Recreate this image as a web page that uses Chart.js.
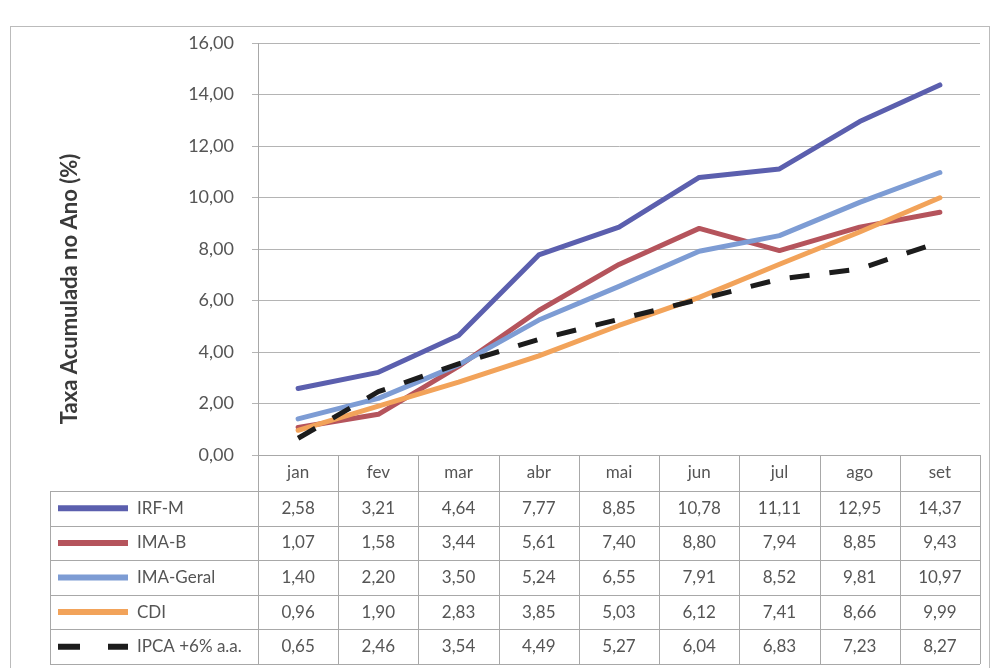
<!DOCTYPE html>
<html>
<head>
<meta charset="utf-8">
<script src="https://cdn.jsdelivr.net/npm/chart.js@4/dist/chart.umd.min.js"></script>
<style>
    html, body { margin: 0; padding: 0; background: #fff; }
    canvas { display: block; }
</style>
</head>
<body>
<canvas id="grafico" width="992" height="668"></canvas>
<script>
const meses = ['jan', 'fev', 'mar', 'abr', 'mai', 'jun', 'jul', 'ago', 'set'];
const irfM = [2.58, 3.21, 4.64, 7.77, 8.85, 10.78, 11.11, 12.95, 14.37];
const imaB = [1.07, 1.58, 3.44, 5.61, 7.40, 8.80, 7.94, 8.85, 9.43];
const imaGeral = [1.40, 2.20, 3.50, 5.24, 6.55, 7.91, 8.52, 9.81, 10.97];
const cdi = [0.96, 1.90, 2.83, 3.85, 5.03, 6.12, 7.41, 8.66, 9.99];
const ipca = [0.65, 2.46, 3.54, 4.49, 5.27, 6.04, 6.83, 7.23, 8.27];
const nomesSeries = ['IRF-M', 'IMA-B', 'IMA-Geral', 'CDI', 'IPCA +6% a.a.'];
const eixoMin = 0, eixoMax = 16, eixoPasso = 2;
const tituloY = 'Taxa Acumulada no Ano (%)';

const fonte = 'Lato, "Open Sans", sans-serif';
const corTexto = '#555';
const corGrade = '#b4b4b4';

const fmt = v => v.toFixed(2).replace('.', ',');

// ==============================
// Tabela de dados + título do eixo
// ==============================
const tabelaPlugin = {
    id: 'tabela',
    afterDraw(chart) {
        const ctx = chart.ctx;
        const area = chart.chartArea;
        const sx = chart.scales.x;
        const larg = (area.right - area.left) / meses.length;
        const topo = area.bottom;
        const altCab = 36;
        const altLinha = 34.6;
        const legEsq = 50;
        const fim = topo + altCab + altLinha * nomesSeries.length;

        ctx.save();
        // moldura do gráfico
        ctx.strokeStyle = '#bbb';
        ctx.lineWidth = 1;
        ctx.strokeRect(10.5, 26.5, 979, 660);

        ctx.strokeStyle = '#a8a8a8';
        ctx.beginPath();
        // linhas verticais das colunas
        for (let i = 0; i <= meses.length; i++) {
            const xx = Math.round(area.left + i * larg) + 0.5;
            ctx.moveTo(xx, topo);
            ctx.lineTo(xx, fim);
        }
        ctx.moveTo(legEsq + 0.5, topo + altCab);
        ctx.lineTo(legEsq + 0.5, fim);
        // linhas horizontais
        ctx.moveTo(area.left, Math.round(topo) + 0.5);
        ctx.lineTo(area.right, Math.round(topo) + 0.5);
        for (let r = 0; r <= nomesSeries.length; r++) {
            const yy = Math.round(topo + altCab + r * altLinha) + 0.5;
            ctx.moveTo(legEsq, yy);
            ctx.lineTo(area.right, yy);
        }
        ctx.stroke();

        ctx.fillStyle = corTexto;
        ctx.font = '17px ' + fonte;
        ctx.textAlign = 'center';
        ctx.textBaseline = 'middle';
        meses.forEach((m, i) => {
            ctx.fillText(m, sx.getPixelForValue(i), topo + altCab / 2);
        });

        chart.data.datasets.forEach((ds, r) => {
            const yy = topo + altCab + r * altLinha + altLinha / 2;
            ctx.textAlign = 'center';
            ds.data.forEach((v, i) => {
                ctx.fillText(fmt(v), sx.getPixelForValue(i), yy);
            });
            // amostra da legenda
            ctx.save();
            ctx.strokeStyle = ds.borderColor;
            ctx.lineWidth = 6;
            ctx.lineCap = 'butt';
            ctx.setLineDash(ds.borderDash ? [22, 28] : []);
            ctx.beginPath();
            ctx.moveTo(58, yy);
            ctx.lineTo(128, yy);
            ctx.stroke();
            ctx.restore();
            ctx.textAlign = 'left';
            ctx.fillText(ds.label, 137, yy);
        });

        // título do eixo Y
        ctx.translate(70, 289);
        ctx.rotate(-Math.PI / 2);
        ctx.font = 'bold 22px Lato, sans-serif';
        ctx.fillStyle = '#3a3a3a';
        ctx.textAlign = 'center';
        ctx.fillText(tituloY, 0, 0);
        ctx.restore();
    }
};

const linha = (label, data, cor, ordem, tracejado) => ({
    label: label,
    data: data,
    borderColor: cor,
    backgroundColor: cor,
    borderWidth: 5,
    pointRadius: 0,
    tension: 0,
    fill: false,
    order: ordem,
    borderJoinStyle: 'round',
    borderCapStyle: tracejado ? 'butt' : 'round',
    borderDash: tracejado ? [20, 20] : undefined
});

new Chart(document.getElementById('grafico'), {
    type: 'line',
    data: {
        labels: meses,
        datasets: [
            linha(nomesSeries[0], irfM, '#5b5fae', 4),
            linha(nomesSeries[1], imaB, '#b5545c', 3),
            linha(nomesSeries[2], imaGeral, '#7d9cd4', 2),
            linha(nomesSeries[3], cdi, '#f2a35a', 1),
            linha(nomesSeries[4], ipca, '#1c1c1c', 0, true)
        ]
    },
    options: {
        responsive: false,
        animation: false,
        layout: { padding: { left: 0, top: 43, right: 12, bottom: 213 } },
        plugins: { legend: { display: false }, tooltip: { enabled: false } },
        scales: {
            x: { display: false, offset: true },
            y: {
                min: eixoMin,
                max: eixoMax,
                afterFit(s) { s.width = 258; },
                ticks: {
                    stepSize: eixoPasso,
                    padding: 18,
                    color: corTexto,
                    font: { family: fonte, size: 18 },
                    callback: v => fmt(v)
                },
                grid: { color: corGrade, tickLength: 6 },
                border: { color: '#a8a8a8' }
            }
        }
    },
    plugins: [tabelaPlugin]
});
</script>
</body>
</html>
